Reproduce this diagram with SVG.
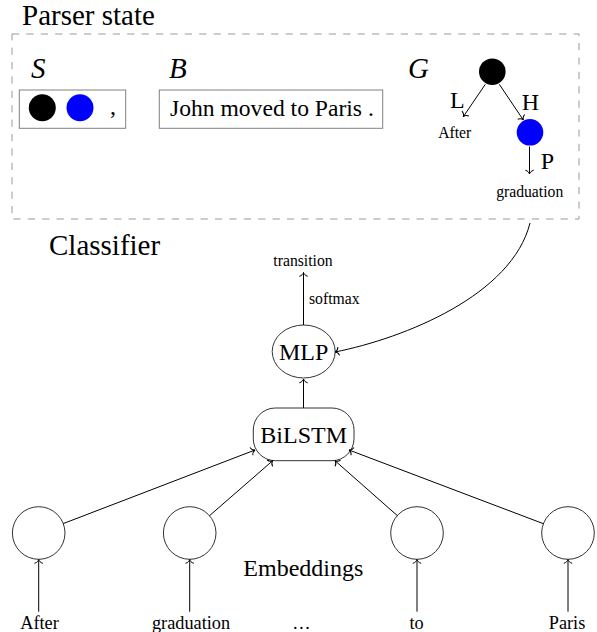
<svg xmlns="http://www.w3.org/2000/svg" width="597" height="632" viewBox="0 0 597 632">
<defs>
<style>
.t { font-family: "Liberation Serif", "Times New Roman", serif; fill: #000; }
.big { font-size: 29px; }
.norm { font-size: 24px; }
.sm { font-size: 15.7px; }
.lab { font-size: 18.3px; }
.it { font-style: italic; }
.mid { text-anchor: middle; }
.edge { stroke: #000; stroke-width: 1; fill: none; }
.arrow { stroke: #000; stroke-width: 1; fill: none; marker-end: url(#arr); }
.node { stroke: #333; stroke-width: 1; fill: #fff; }
.box { stroke: #808080; stroke-width: 1; fill: #fff; }
</style>
<marker id="arr" markerUnits="userSpaceOnUse" orient="auto" refX="0" refY="0" markerWidth="10" markerHeight="10" overflow="visible">
<path d="M-3.8,-4.2 C-3.2,-1.6 -1.2,-0.3 0,0 C-1.2,0.3 -3.2,1.6 -3.8,4.2" fill="none" stroke="#000" stroke-width="1"/>
</marker>
</defs>
<rect width="597" height="632" fill="#fff"/>

<g id="parser-state">
<rect x="12" y="34" width="567" height="185" fill="none" stroke="#999" stroke-width="1" stroke-dasharray="7.2 7.2"/>
<text class="t big" x="22" y="25">Parser state</text>
</g>

<g id="stack">
<text class="t big it" x="31" y="78">S</text>
<rect class="box" x="19.3" y="90" width="106.4" height="38.3"/>
<circle cx="42.3" cy="107.7" r="13.5" fill="#000"/>
<circle cx="80" cy="107.7" r="13.5" fill="#0000ff"/>
<text class="t norm" x="110" y="114">,</text>
</g>

<g id="buffer">
<text class="t big it" x="169" y="78">B</text>
<rect class="box" x="159.3" y="90" width="223.4" height="38.3"/>
<text class="t" style="font-size:23.6px" x="170" y="116">John moved to Paris .</text>
</g>

<g id="graph">
<text class="t big it" x="408" y="78">G</text>
<circle id="g-root" cx="492.3" cy="71.7" r="13.3" fill="#000"/>
<circle id="g-child" cx="530" cy="132.3" r="13.3" fill="#0000ff"/>
<text class="t norm" x="450" y="108">L</text>
<text class="t norm" x="521.7" y="110">H</text>
<text class="t norm" x="540.7" y="169">P</text>
<text class="t sm mid" x="454.7" y="137.7">After</text>
<text class="t sm mid" x="529.7" y="196.5">graduation</text>
</g>

<g id="classifier-label">
<text class="t big" x="49" y="255">Classifier</text>
</g>

<g id="transition">
<text class="t sm mid" x="303" y="266">transition</text>
<text class="t sm" x="309" y="304">softmax</text>
</g>

<g id="mlp">
<ellipse class="node" cx="303.7" cy="351.5" rx="31.5" ry="26.5"/>
<text class="t norm mid" x="303.7" y="360">MLP</text>
</g>

<g id="bilstm">
<rect class="node" x="253.3" y="408" width="100.7" height="52.7" rx="22" ry="22"/>
<text class="t norm mid" x="303.7" y="443">BiLSTM</text>
</g>

<g id="emb-1"><circle class="node" cx="38.7" cy="533" r="26.3"/></g>
<g id="emb-2"><circle class="node" cx="189.7" cy="533" r="26.3"/></g>
<g id="emb-3"><circle class="node" cx="417" cy="533" r="26.3"/></g>
<g id="emb-4"><circle class="node" cx="568" cy="533" r="26.3"/></g>

<g id="embeddings-label">
<text class="t norm" x="243.3" y="576">Embeddings</text>
</g>

<g id="words">
<text class="t lab mid" x="39.5" y="629">After</text>
<text class="t lab mid" x="191" y="629">graduation</text>
<text class="t lab mid" x="301.5" y="629">…</text>
<text class="t lab mid" x="416.5" y="629">to</text>
<text class="t lab mid" x="567" y="629">Paris</text>
</g>

<g id="connectors">
<line class="arrow" x1="485.3" y1="84.3" x2="463.3" y2="116.7"/>
<line class="arrow" x1="499.3" y1="84.3" x2="523.3" y2="120"/>
<line class="arrow" x1="529.5" y1="146.5" x2="529.5" y2="174"/>
<path class="arrow" d="M530,223 C512,295 405,338 335,352"/>
<line class="arrow" x1="303.5" y1="325" x2="303.5" y2="272.5"/>
<line class="arrow" x1="303.5" y1="408" x2="303.5" y2="379"/>
<line class="arrow" x1="63.2" y1="523.6" x2="255" y2="450"/>
<line class="arrow" x1="209.5" y1="515.7" x2="272.7" y2="460.7"/>
<line class="arrow" x1="397.3" y1="515.6" x2="335" y2="460.7"/>
<line class="arrow" x1="543.4" y1="523.7" x2="349" y2="450"/>
<line class="arrow" x1="38.7" y1="611.7" x2="38.7" y2="559.5"/>
<line class="arrow" x1="189.7" y1="611.7" x2="189.7" y2="559.5"/>
<line class="arrow" x1="417" y1="611.7" x2="417" y2="559.5"/>
<line class="arrow" x1="568" y1="611.7" x2="568" y2="559.5"/>
</g>
</svg>
